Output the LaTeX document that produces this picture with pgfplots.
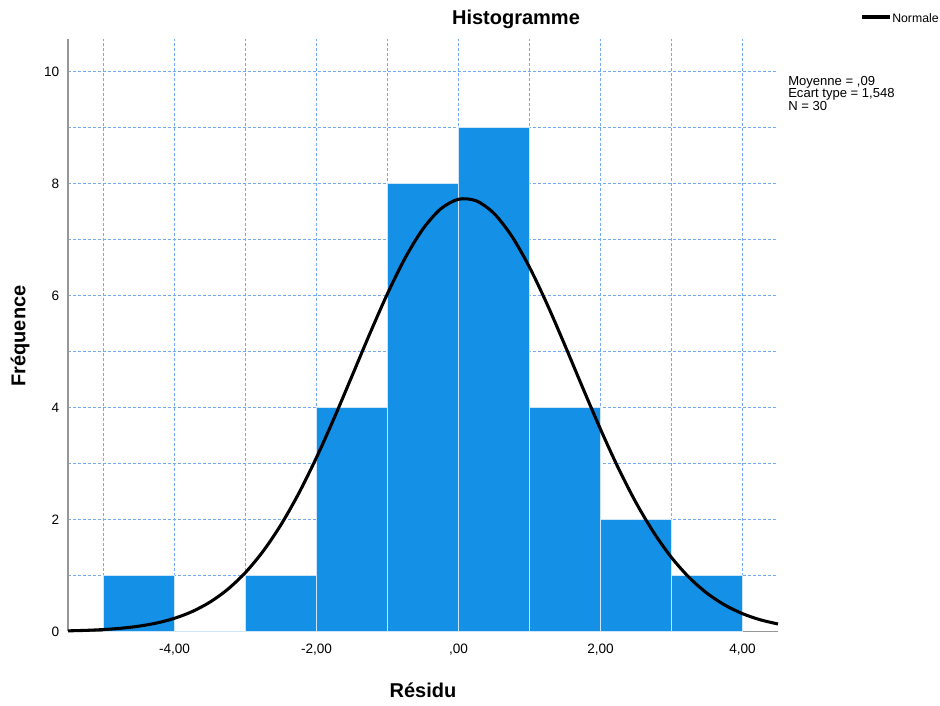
\documentclass[border=0pt]{standalone}
\usepackage{pgfplots}
\pgfplotsset{compat=1.18}
\usepackage{fontspec}
\setmainfont{Liberation Sans}
\definecolor{barblue}{RGB}{20,144,230}
\definecolor{gridblue}{RGB}{115,170,240}
\definecolor{axgray}{RGB}{150,150,150}
\begin{document}
\begin{tikzpicture}[x=0.75pt,y=0.75pt]
\path[use as bounding box] (-68,-74) rectangle (872,632);
\begin{axis}[
  at={(0pt,0.375pt)}, anchor=south west,
  scale only axis, width=532.5pt, height=444pt,
  xmin=-5.5, xmax=4.5, ymin=0, ymax=10.5714,
  axis x line*=bottom, axis y line*=left,
  axis line style={axgray, line width=0.9pt, -},
  xtick={-4,-2,0,2,4},
  xticklabels={{-4,00},{-2,00},{,00},{2,00},{4,00}},
  minor xtick={-5,-3,-1,1,3},
  ytick={0,2,4,6,8,10},
  minor ytick={1,3,5,7,9},
  tick style={draw=none},
  major tick length=0pt, minor tick length=0pt,
  grid=both,
  grid style={gridblue, line width=0.9pt, dash pattern=on 2.25pt off 1.5pt},
  major grid style={gridblue, line width=0.9pt, dash pattern=on 2.25pt off 1.5pt},
  minor grid style={gridblue, line width=0.9pt, dash pattern=on 2.25pt off 1.5pt},
  /pgf/number format/assume math mode=true,
  tick label style={font=\fontsize{10.2}{12}\selectfont},
  xticklabel style={yshift=-6pt},
  yticklabel style={xshift=-3pt},
  clip=false,
]
\addplot[ybar interval, fill=barblue, draw={rgb,255:red,205;green,228;blue,250}, line width=1pt]
  coordinates {(-5,1) (-4,0) (-3,1) (-2,4) (-1,8) (0,9) (1,4) (2,2) (3,1) (4,1)};
\addplot[black, line width=2.3pt, smooth] coordinates {
(-5.5,0.0114) (-5.25,0.0201) (-5.0,0.0347) (-4.75,0.0583) (-4.5,0.0954)
(-4.25,0.1518) (-4.0,0.2357) (-3.75,0.3565) (-3.5,0.5251) (-3.25,0.7539)
(-3.0,1.0543) (-2.75,1.4369) (-2.5,1.9072) (-2.25,2.4664) (-2.0,3.1076)
(-1.75,3.8147) (-1.5,4.5622) (-1.25,5.3153) (-1.0,6.0339) (-0.75,6.6730)
(-0.5,7.1898) (-0.25,7.5472) (0.0,7.7183) (0.25,7.6902)
(0.5,7.4650) (0.75,7.0597) (1.0,6.5046) (1.25,5.8390) (1.5,5.1062)
(1.75,4.3506) (2.0,3.6115) (2.25,2.9205) (2.5,2.3010) (2.75,1.7665)
(3.0,1.3212) (3.25,0.9627) (3.5,0.6833) (3.75,0.4725) (4.0,0.3184)
(4.25,0.2090) (4.5,0.1337)};
\end{axis}
% title
\node[font=\fontsize{15}{18}\selectfont\bfseries] at (448,613) {Histogramme};
% axis labels
\node[font=\fontsize{15}{18}\selectfont\bfseries] at (355,-58) {Résidu};
\node[font=\fontsize{15}{18}\selectfont\bfseries, rotate=90] at (-48,296) {Fréquence};
% legend
\draw[black, line width=2.3pt] (794,615) -- (822,615);
\node[anchor=west, inner sep=0pt, font=\fontsize{9.2}{11}\selectfont] at (824,614) {Normale};
% stats
\node[anchor=north west, inner sep=0pt, align=left, font=\fontsize{9.8}{9.4}\selectfont] at (720,556)
  {Moyenne = ,09\\Ecart type = 1,548\\N = 30};
\end{tikzpicture}
\end{document}
